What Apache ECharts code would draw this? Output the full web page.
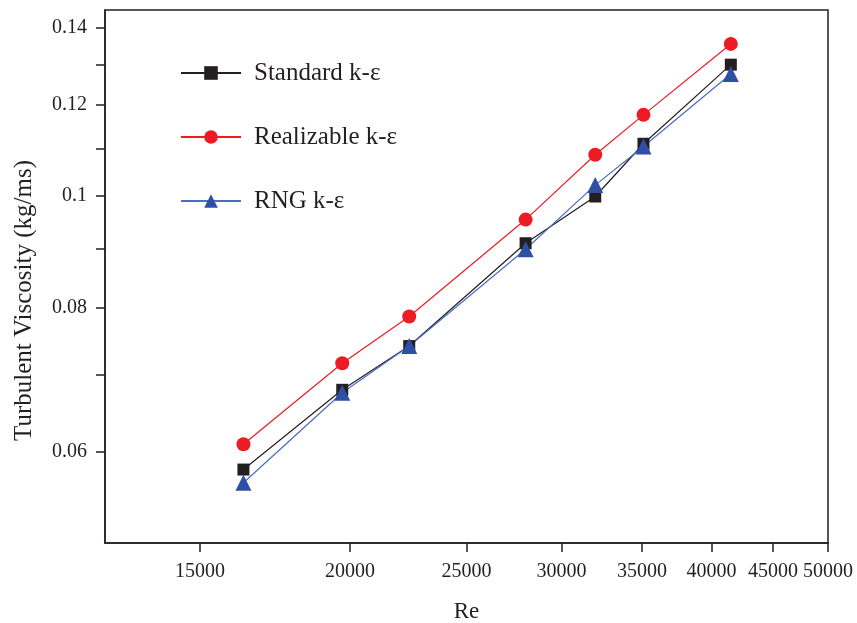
<!DOCTYPE html>
<html><head><meta charset="utf-8">
<script src="https://cdn.jsdelivr.net/npm/echarts@6/dist/echarts.min.js"></script>
<style>html,body{margin:0;padding:0;background:#fff}#c{width:857px;height:623px}</style>
</head><body><div id="c"></div>
<script>
const re = [16300, 19700, 22400, 28000, 32000, 35100, 41500];
const standard = [0.0579, 0.0679, 0.0741, 0.0910, 0.0999, 0.1110, 0.1300];
const realizable = [0.0609, 0.0716, 0.0786, 0.0954, 0.1086, 0.1176, 0.1355];
const rng = [0.0564, 0.0675, 0.0741, 0.0899, 0.1022, 0.1104, 0.1276];
const xTicks = [15000, 20000, 25000, 30000, 35000, 40000, 45000, 50000];
const yLabels = [0.06, 0.08, 0.1, 0.12, 0.14];
const yTicks = [0.06, 0.07, 0.08, 0.09, 0.1, 0.11, 0.12, 0.13, 0.14];
const names = ['Standard k-ε', 'Realizable k-ε', 'RNG k-ε'];

const font = '"Liberation Serif", "Times New Roman", serif';
const ink = '#231f20';
const pair = arr => re.map((x, i) => [x, arr[i]]);
const chart = echarts.init(document.getElementById('c'));
chart.setOption({
  animation: false,
  textStyle: {fontFamily: font},
  grid: {left: 105, right: 29, top: 10, bottom: 80, outerBoundsMode: 'none', containLabel: false,
         show: true, borderColor: ink, borderWidth: 1.5, backgroundColor: 'transparent'},
  legend: {
    orient: 'vertical', left: 180, top: 60, padding: 0, itemWidth: 60, itemHeight: 17, itemGap: 38,
    textStyle: {fontFamily: font, fontSize: 25, lineHeight: 26, color: ink, padding: [0, 0, 0, 8]},
    data: names
  },
  xAxis: {
    type: 'log', min: 12500, max: 50000, logBase: 10,
    name: 'Re', nameLocation: 'middle', nameGap: 57,
    nameTextStyle: {fontFamily: font, fontSize: 23, color: ink},
    axisLine: {show: true, lineStyle: {color: ink, width: 1.5}},
    axisTick: {show: true, customValues: xTicks, length: 9, inside: false, lineStyle: {color: ink, width: 1.5}},
    axisLabel: {customValues: xTicks, fontFamily: font, fontSize: 20, color: ink, margin: 19, formatter: v => String(Math.round(v))},
    splitLine: {show: false}, minorTick: {show: false}
  },
  yAxis: {
    type: 'log', min: 0.05, max: 0.145, logBase: 10,
    name: 'Turbulent Viscosity (kg/ms)', nameLocation: 'middle', nameGap: 68,
    nameTextStyle: {fontFamily: font, fontSize: 25, color: ink, padding: [0, 48, 0, 0]},
    axisLine: {show: true, lineStyle: {color: ink, width: 1.5}},
    axisTick: {show: true, customValues: yTicks, length: 9, inside: false, lineStyle: {color: ink, width: 1.5}},
    axisLabel: {customValues: yLabels, fontFamily: font, fontSize: 20, color: ink, margin: 18, formatter: v => String(+(+v).toPrecision(6))},
    splitLine: {show: false}, minorTick: {show: false}
  },
  series: [
    {name: names[0], type: 'line', data: pair(standard), symbol: 'rect', symbolSize: 12,
     itemStyle: {color: ink}, lineStyle: {color: ink, width: 1.2}},
    {name: names[1], type: 'line', data: pair(realizable), symbol: 'circle', symbolSize: 14,
     itemStyle: {color: '#ed1c24'}, lineStyle: {color: '#ed1c24', width: 1.2}},
    {name: names[2], type: 'line', data: pair(rng), symbol: 'triangle', symbolSize: 16,
     itemStyle: {color: '#2e4fa3'}, lineStyle: {color: '#4b6cc1', width: 1.2}}
  ]
});
</script></body></html>
